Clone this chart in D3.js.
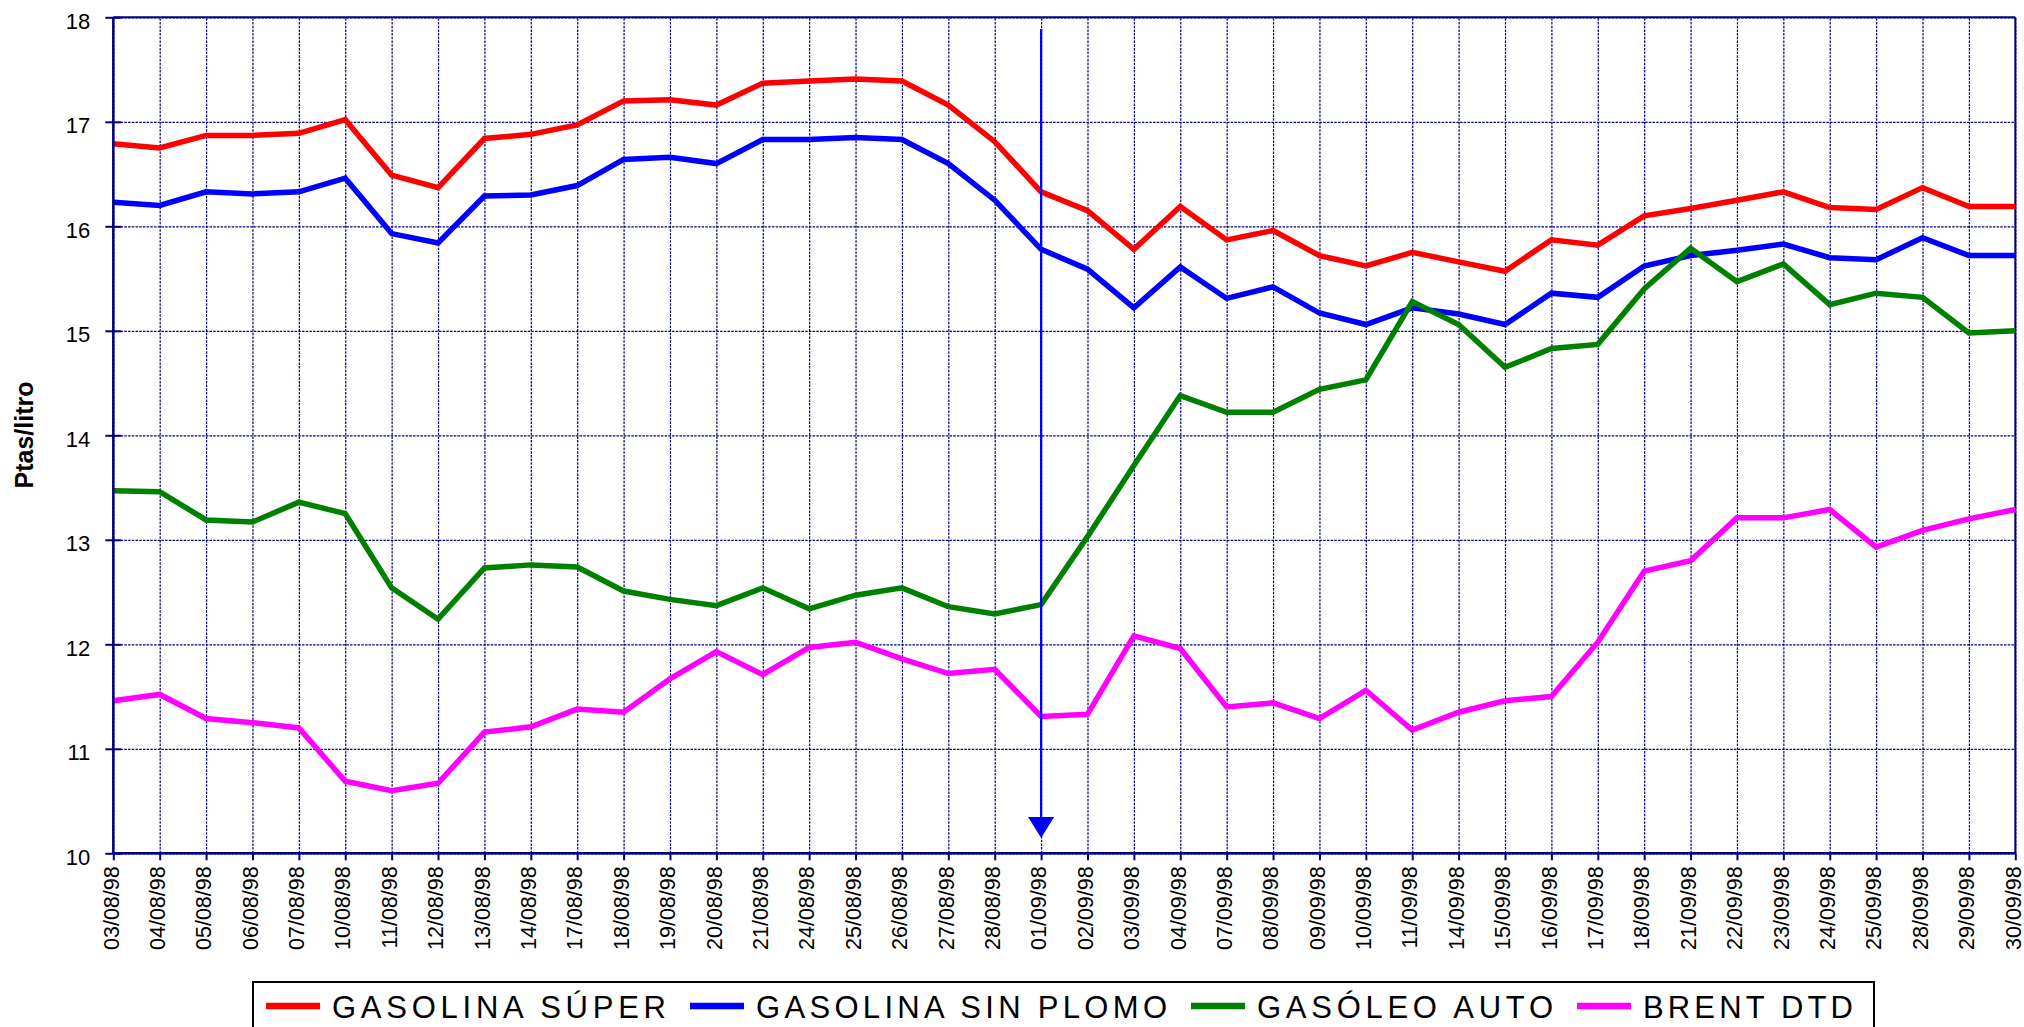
<!DOCTYPE html>
<html><head><meta charset="utf-8">
<script src="https://cdn.jsdelivr.net/npm/d3@7"></script>
<style>html,body{margin:0;padding:0;background:#fff;overflow:hidden} svg{display:block}</style>
</head><body>
<svg id="chart" width="2024" height="1027"></svg>
<script>
const dates = ["03/08/98","04/08/98","05/08/98","06/08/98","07/08/98","10/08/98","11/08/98","12/08/98","13/08/98","14/08/98","17/08/98",
"18/08/98","19/08/98","20/08/98","21/08/98","24/08/98","25/08/98","26/08/98","27/08/98","28/08/98",
"01/09/98","02/09/98","03/09/98","04/09/98","07/09/98","08/09/98","09/09/98","10/09/98","11/09/98","14/09/98","15/09/98",
"16/09/98","17/09/98","18/09/98","21/09/98","22/09/98","23/09/98","24/09/98","25/09/98","28/09/98","29/09/98","30/09/98"];

const yTicks = [10,11,12,13,14,15,16,17,18];

const superValues = [16.79,16.75,16.87,16.87,16.89,17.02,16.49,16.37,16.84,16.88,16.97,
17.20,17.21,17.16,17.37,17.39,17.41,17.39,17.16,16.81,
16.33,16.15,15.78,16.19,15.87,15.96,15.72,15.62,15.75,15.66,15.57,
15.87,15.82,16.10,16.17,16.25,16.33,16.18,16.16,16.37,16.19,16.19];

const sinPlomoValues = [16.23,16.20,16.33,16.31,16.33,16.46,15.93,15.84,16.29,16.30,16.39,
16.64,16.66,16.60,16.83,16.83,16.85,16.83,16.60,16.25,
15.78,15.59,15.22,15.61,15.31,15.42,15.17,15.06,15.22,15.16,15.06,
15.36,15.32,15.62,15.72,15.77,15.83,15.70,15.68,15.89,15.72,15.72];

const gasoleoValues = [13.47,13.46,13.19,13.17,13.36,13.25,12.54,12.24,12.73,12.76,12.74,
12.51,12.43,12.37,12.54,12.34,12.47,12.54,12.36,12.29,
12.38,13.03,13.71,14.38,14.22,14.22,14.44,14.53,15.28,15.06,14.65,
14.83,14.87,15.40,15.79,15.47,15.64,15.25,15.36,15.32,14.98,15.00];

const brentValues = [11.46,11.52,11.29,11.25,11.20,10.69,10.60,10.67,11.16,11.21,11.38,
11.35,11.67,11.93,11.71,11.97,12.02,11.86,11.72,11.76,
11.31,11.33,12.08,11.96,11.40,11.44,11.29,11.56,11.18,11.35,11.46,
11.50,12.02,12.70,12.80,13.21,13.21,13.29,12.93,13.09,13.20,13.29];

const seriesNames = ["GASOLINA SÚPER","GASOLINA SIN PLOMO","GASÓLEO AUTO","BRENT DTD"];
const seriesColors = ["#ff0000","#0000ff","#008000","#ff00ff"];
const seriesValues = [superValues, sinPlomoValues, gasoleoValues, brentValues];
const yTitle = "Ptas/litro";
const markerDate = "01/09/98";

(function draw() {
const svg = d3.select("#chart");
const pL = 113.3, pT = 17.3, pR = 2015.3, pB = 853.3;
const navy = "#000080";
const font = "'Liberation Sans', Arial, sans-serif";
const legendTextWidths = [334, 411, 296, 210];

const x = d3.scalePoint().domain(dates).range([pL, pR]);
const y = d3.scaleLinear().domain([10, 18]).range([pB, pT]);

// gridlines
const gridY = svg.append("g").attr("transform", `translate(${pL},0)`)
  .call(d3.axisLeft(y).tickValues(yTicks).tickSize(-(pR-pL)).tickFormat(""));
gridY.select(".domain").remove();
gridY.selectAll("line").attr("stroke", navy).attr("stroke-width", 1.2).attr("stroke-dasharray", "2.5,1.2");

const gridX = svg.append("g").attr("transform", `translate(0,${pB})`)
  .call(d3.axisBottom(x).tickSize(-(pB-pT)).tickFormat(""));
gridX.select(".domain").remove();
gridX.selectAll("line").attr("stroke", navy).attr("stroke-width", 1.2).attr("stroke-dasharray", "2.5,1.2");

// border top/right
svg.append("line").attr("x1", pL).attr("x2", pR).attr("y1", pT).attr("y2", pT)
  .attr("stroke", navy).attr("stroke-width", 2);
svg.append("line").attr("x1", pR).attr("x2", pR).attr("y1", pT).attr("y2", pB)
  .attr("stroke", navy).attr("stroke-width", 2);

// series
const line = d3.line().x((d, i) => x(dates[i])).y(d => y(d));
seriesValues.forEach((vals, k) => {
  svg.append("path").datum(vals)
    .attr("d", line)
    .attr("fill", "none")
    .attr("stroke", seriesColors[k])
    .attr("stroke-width", 5.5)
    .attr("stroke-linejoin", "miter")
    .attr("stroke-miterlimit", 2);
});

// y axis
const yAxis = svg.append("g").attr("transform", `translate(${pL},0)`)
  .call(d3.axisLeft(y).tickValues(yTicks).tickSize(8).tickPadding(15).tickFormat(d3.format("d")));
yAxis.select(".domain").attr("stroke", navy).attr("stroke-width", 2.5)
  .attr("d", `M0,${pT}V${pB}`);
yAxis.selectAll(".tick line").attr("stroke", navy).attr("stroke-width", 2).attr("x1", 8).attr("x2", -8);
yAxis.selectAll(".tick text").attr("font-family", font).attr("font-size", 22)
  .attr("fill", "#000").attr("x", -23).attr("dy", "0.49em");

// x axis
const xAxis = svg.append("g").attr("transform", `translate(0,${pB})`)
  .call(d3.axisBottom(x).tickSize(7));
xAxis.select(".domain").attr("stroke", navy).attr("stroke-width", 2.5)
  .attr("d", `M${pL},0H${pR}`);
xAxis.selectAll(".tick line").attr("stroke", navy).attr("stroke-width", 2);
xAxis.selectAll(".tick text")
  .attr("font-family", font).attr("font-size", 21.5).attr("fill", "#000")
  .attr("text-anchor", "end")
  .attr("transform", "rotate(-90)")
  .attr("x", -13).attr("y", 0).attr("dy", "0.22em");

// y title
svg.append("text")
  .attr("transform", "translate(33,435) rotate(-90)")
  .attr("text-anchor", "middle")
  .attr("font-family", font).attr("font-weight", "bold").attr("font-size", 25)
  .attr("fill", "#000")
  .text(yTitle);

// marker arrow
const mx = x(markerDate);
svg.append("line").attr("x1", mx).attr("x2", mx).attr("y1", 29).attr("y2", 820)
  .attr("stroke", "#0000ff").attr("stroke-width", 2.2);
svg.append("path")
  .attr("d", `M${mx-13},817L${mx+13},817L${mx},838Z`)
  .attr("fill", "#0000ff");

// legend
const lg = svg.append("g");
lg.append("rect").attr("x", 253).attr("y", 982).attr("width", 1621).attr("height", 120)
  .attr("fill", "#fff").attr("stroke", "#000").attr("stroke-width", 2);
let cx = 266;
seriesNames.forEach((name, k) => {
  lg.append("line").attr("x1", cx).attr("x2", cx + 54).attr("y1", 1006).attr("y2", 1006)
    .attr("stroke", seriesColors[k]).attr("stroke-width", 6.5);
  lg.append("text").attr("x", cx + 66).attr("y", 1017.5)
    .attr("font-family", font).attr("font-size", 31)
    .attr("textLength", legendTextWidths[k]).attr("lengthAdjust", "spacing")
    .attr("fill", "#000").text(name);
  cx = cx + 66 + legendTextWidths[k] + 24;
});
})();
</script>
</body></html>
